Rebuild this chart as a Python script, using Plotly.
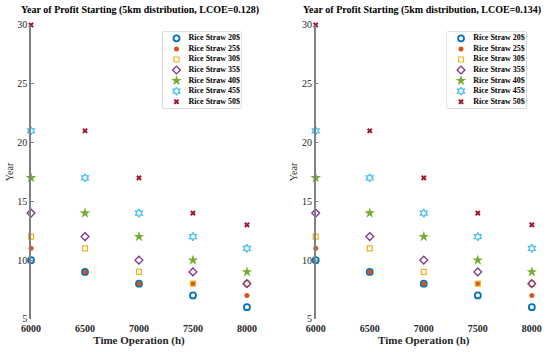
import plotly.graph_objects as go

hours = [6000, 6500, 7000, 7500, 8000]
series_names = ["Rice Straw 20$", "Rice Straw 25$", "Rice Straw 30$", "Rice Straw 35$",
                "Rice Straw 40$", "Rice Straw 45$", "Rice Straw 50$"]
left_years = [
    [10, 9, 8, 7, 6],
    [11, 9, 8, 8, 7],
    [12, 11, 9, 8, 8],
    [14, 12, 10, 9, 8],
    [17, 14, 12, 10, 9],
    [21, 17, 14, 12, 11],
    [30, 21, 17, 14, 13],
]
right_years = [
    [10, 9, 8, 7, 6],
    [11, 9, 8, 8, 7],
    [12, 11, 9, 8, 8],
    [14, 12, 10, 9, 8],
    [17, 14, 12, 10, 9],
    [21, 17, 14, 12, 11],
    [30, 21, 17, 14, 13],
]
titles = ["Year of Profit Starting (5km distribution, LCOE=0.128)",
          "Year of Profit Starting (5km distribution, LCOE=0.134)"]
y_ticks = [5, 10, 15, 20, 25, 30]
x_ticks = [6000, 6500, 7000, 7500, 8000]

colors = ["#0072BD", "#D95319", "#EDB120", "#7E2F8E", "#77AC30", "#4DBEEE", "#A2142F"]
symbols = ["circle-open", "circle", "square-open", "diamond-open", "star", "hexagram-open", "x"]
sizes = [6, 5, 5, 6, 8, 6, 5]
lws = [1.8, 0, 1.2, 1.3, 0, 1.3, 0]

SERIF = "Liberation Serif"
fig = go.Figure()

domains = [[0.0564, 0.449], [0.574, 0.967]]
legend_boxes = [[0.296, 0.438], [0.813, 0.957]]
legend_y = [0.693, 0.909]
n = len(series_names)

for p, data in enumerate([left_years, right_years]):
    sfx = "" if p == 0 else "2"
    lsfx = str(3 + p)
    for i, name in enumerate(series_names):
        mk = dict(symbol=symbols[i], color=colors[i], size=sizes[i],
                  line=dict(width=lws[i], color=colors[i]))
        fig.add_trace(go.Scatter(
            x=hours, y=data[i], mode="markers", name=name, showlegend=False,
            xaxis="x" + sfx, yaxis="y" + sfx, cliponaxis=False, marker=mk))
    # compact legend (swatches + labels) on a helper axis
    rows = [n - 1 - i + 0.5 for i in range(n)]
    for i, name in enumerate(series_names):
        mk = dict(symbol=symbols[i], color=colors[i], size=sizes[i],
                  line=dict(width=lws[i], color=colors[i]))
        fig.add_trace(go.Scatter(
            x=[0.175], y=[rows[i]], mode="markers", showlegend=False, hoverinfo="skip",
            xaxis="x" + lsfx, yaxis="y" + lsfx, cliponaxis=False, marker=mk))
    fig.add_trace(go.Scatter(
        x=[0.33] * n, y=rows, mode="text", text=series_names, textposition="middle right",
        showlegend=False, hoverinfo="skip", xaxis="x" + lsfx, yaxis="y" + lsfx,
        cliponaxis=False,
        textfont=dict(family=SERIF, size=8, color="#000000", weight="bold")))
    hidden = dict(visible=False, showgrid=False, zeroline=False, fixedrange=True)
    fig.update_layout(**{
        "xaxis" + lsfx: dict(domain=legend_boxes[p], range=[0, 1], anchor="y" + lsfx, **hidden),
        "yaxis" + lsfx: dict(domain=legend_y, range=[-0.1, n + 0.1], anchor="x" + lsfx, **hidden),
    })
    fig.add_shape(type="rect", xref="paper", yref="paper",
                  x0=legend_boxes[p][0], x1=legend_boxes[p][1],
                  y0=legend_y[0], y1=legend_y[1],
                  line=dict(color="#BBBBBB", width=1), fillcolor="rgba(0,0,0,0)", layer="below")

    fig.update_layout(**{
        "xaxis" + sfx: dict(domain=domains[p], range=[6000, 8000], tickvals=x_ticks,
                            showgrid=False, zeroline=False, showline=False, ticks="",
                            automargin=False, ticklabelstandoff=2,
                            tickfont=dict(family=SERIF, size=10, color="#262626", weight="bold"),
                            title=dict(text="<b>Time Operation (h)</b>",
                                       font=dict(family=SERIF, size=11, color="#262626"),
                                       standoff=0),
                            anchor="y" + sfx),
        "yaxis" + sfx: dict(domain=[0.094, 0.929], range=[5, 30], tickvals=y_ticks,
                            showgrid=False, zeroline=False, showline=True,
                            linecolor="#808080", linewidth=1.5, ticks="inside",
                            ticklen=3, tickcolor="#808080", automargin=False,
                            tickfont=dict(family=SERIF, size=10, color="#262626"),
                            title=dict(text="Year", font=dict(family=SERIF, size=10, color="#262626"),
                                       standoff=2),
                            anchor="x" + sfx),
    })

fig.update_layout(
    width=550, height=352,
    margin=dict(l=0, r=0, t=0, b=0),
    plot_bgcolor="white", paper_bgcolor="white",
    showlegend=False,
    annotations=[
        dict(text="<b>" + titles[0] + "</b>", x=0.034, y=0.995, xref="paper", yref="paper",
             xanchor="left", yanchor="top", showarrow=False,
             font=dict(family=SERIF, size=10, color="#000000")),
        dict(text="<b>" + titles[1] + "</b>", x=0.547, y=0.995, xref="paper", yref="paper",
             xanchor="left", yanchor="top", showarrow=False,
             font=dict(family=SERIF, size=10, color="#000000")),
    ],
)

fig.write_html("out.html", config={"displayModeBar": False},
               post_script="document.body.style.margin='0px';")
